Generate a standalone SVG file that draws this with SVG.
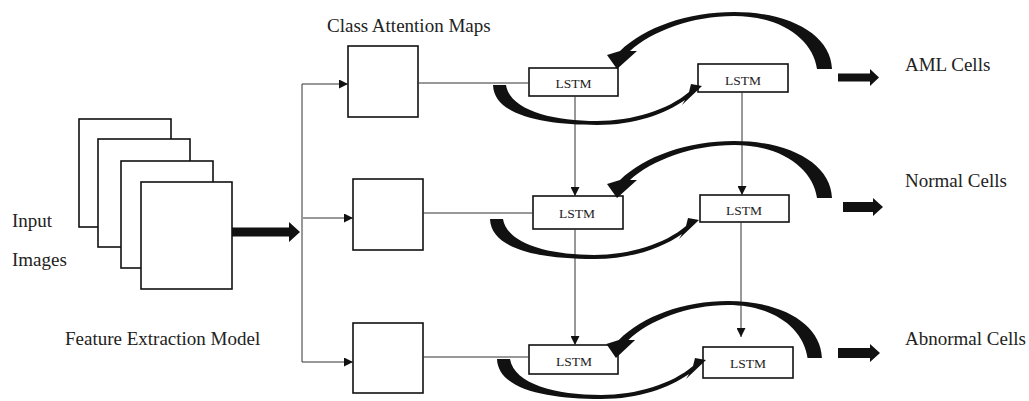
<svg xmlns="http://www.w3.org/2000/svg" width="1029" height="401" viewBox="0 0 1029 401">
<style>
  .lbl{font-family:"Liberation Serif","Times New Roman",serif;font-size:19px;fill:#222}
  .lt{font-family:"Liberation Serif","Times New Roman",serif;font-size:13.5px;fill:#222;text-anchor:middle}
  .box{fill:#fff;stroke:#111;stroke-width:1.6}
  .lstm{fill:#fff;stroke:#111;stroke-width:1.6}
  .thin{fill:none;stroke:#333;stroke-width:1}
  .blk{fill:#111}
</style>
<defs>
  <marker id="ah" markerUnits="userSpaceOnUse" markerWidth="9" markerHeight="9" refX="9" refY="4.5" orient="auto">
    <path d="M0,0 L9,4.5 L0,9 z" fill="#111"/>
  </marker>
  <path id="fb" d="M832,69 C831,35 790,12 734,12 C688,12 645,27 620,51 L607,55 L617,69 L637,51 L630,51 C652,31 692,16 734,16 C782,16 813,40 817,69 Z"/>
  <path id="fw" d="M493,85 C494,116 545,125 597,125 C635,125 665,114 685,100 L682,105 L702,86 L691,84 L689,92 C668,110 632,121 597,121 C552,121 510,110 506,85 Z"/>
</defs>

<g id="input-stack">
  <rect class="box" x="79" y="119" width="92" height="108"/>
  <rect class="box" x="98" y="139" width="92" height="108"/>
  <rect class="box" x="121" y="161" width="92" height="107"/>
  <rect class="box" x="141" y="182" width="91" height="107"/>
</g>
<g id="labels-left">
  <text class="lbl" x="12" y="227">Input</text>
  <text class="lbl" x="12" y="266">Images</text>
  <text class="lbl" x="65" y="345">Feature Extraction Model</text>
  <text class="lbl" x="327" y="32">Class Attention Maps</text>
</g>

<g id="map1"><rect class="box" x="348" y="46" width="70" height="71"/></g>
<g id="map2"><rect class="box" x="353" y="179" width="70" height="71"/></g>
<g id="map3"><rect class="box" x="353" y="323" width="70" height="70"/></g>

<g id="lstm1a"><rect class="lstm" x="529" y="68" width="89" height="28"/><text class="lt" x="573.5" y="88">LSTM</text></g>
<g id="lstm1b"><rect class="lstm" x="698" y="64" width="90" height="28"/><text class="lt" x="743" y="85">LSTM</text></g>
<g id="lstm2a"><rect class="lstm" x="533" y="196" width="90" height="33"/><text class="lt" x="577" y="218">LSTM</text></g>
<g id="lstm2b"><rect class="lstm" x="700" y="195" width="89" height="27"/><text class="lt" x="744" y="215">LSTM</text></g>
<g id="lstm3a"><rect class="lstm" x="529" y="345" width="89" height="29"/><text class="lt" x="574" y="366">LSTM</text></g>
<g id="lstm3b"><rect class="lstm" x="703" y="347" width="90" height="31"/><text class="lt" x="748" y="368">LSTM</text></g>

<g id="outputs">
  <text class="lbl" x="905" y="71">AML Cells</text>
  <text class="lbl" x="905" y="187">Normal Cells</text>
  <text class="lbl" x="905" y="345">Abnormal Cells</text>
</g>

<g id="connectors">
  <path class="blk" d="M232,227.5 H289 V222 L300,232 L289,242 V236.5 H232 Z"/>
  <path class="thin" d="M302,84 V362"/>
  <path class="thin" d="M302,84 H348" marker-end="url(#ah)"/>
  <path class="thin" d="M303,218 H353" marker-end="url(#ah)"/>
  <path class="thin" d="M302,362 H353" marker-end="url(#ah)"/>
  <path class="thin" d="M418,83 H529"/>
  <path class="thin" d="M423,213 H533"/>
  <path class="thin" d="M423,357 H529"/>
  <path class="thin" d="M575,96 V196" marker-end="url(#ah)"/>
  <path class="thin" d="M742,92 V195" marker-end="url(#ah)"/>
  <path class="thin" d="M575,229 V345" marker-end="url(#ah)"/>
  <path class="thin" d="M741,222 V337" marker-end="url(#ah)"/>
  <use href="#fb" class="blk"/>
  <use href="#fw" class="blk"/>
  <use href="#fb" class="blk" transform="translate(0,129)"/>
  <use href="#fw" class="blk" transform="translate(-3,134)"/>
  <use href="#fb" class="blk" transform="translate(615,289) scale(0.958,1) translate(-616,0)"/>
  <use href="#fw" class="blk" transform="translate(4,274)"/>
  <path class="blk" d="M838,73.5 H870 V69 L879,77.5 L870,86 V81.5 H838 Z"/>
  <path class="blk" d="M843,202 H873 V198 L883,207 L873,216 V212 H843 Z"/>
  <path class="blk" d="M838,348 H870 V344 L880,353 L870,362 V358 H838 Z"/>
</g>
</svg>
